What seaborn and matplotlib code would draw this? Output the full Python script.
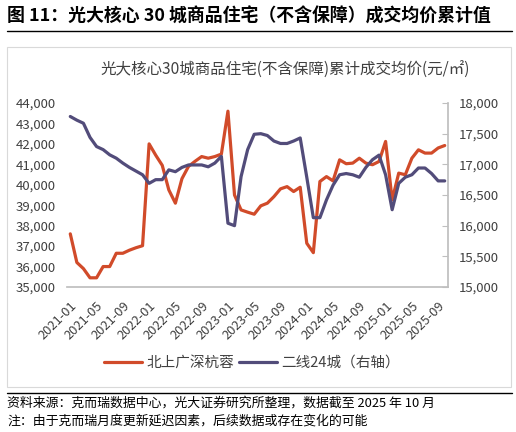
import pandas as pd
import matplotlib.pyplot as plt
import seaborn as sns
from matplotlib.lines import Line2D
from matplotlib.patches import Rectangle

# 月份（2021-01 ~ 2025-10）
months = [str(p) for p in pd.period_range('2021-01', '2025-10', freq='M')]

# 北上广深杭蓉（左轴，元/㎡）
tier1 = [37600, 36200, 35900, 35450, 35450, 36000, 36000, 36650, 36650, 36800,
         36920, 37020, 42000, 41450, 40950, 39750, 39100, 40300, 40900, 41150,
         41380, 41300, 41380, 41500, 43600, 39500, 38770, 38660, 38560, 38970,
         39100, 39420, 39800, 39910, 39670, 39880, 37140, 36680, 40160, 40400,
         40190, 41220, 41030, 41060, 41300, 41060, 40980, 41140, 42120, 39260,
         40570, 40490, 41300, 41710, 41550, 41550, 41800, 41920]

# 二线24城（右轴，元/㎡）
tier2 = [17780, 17720, 17670, 17440, 17290, 17240, 17155, 17100, 17020, 16950,
         16890, 16830, 16690, 16750, 16750, 16910, 16880, 16950, 16990, 16990,
         16990, 16960, 17020, 17130, 16040, 16000, 16800, 17240, 17490, 17500,
         17470, 17380, 17340, 17340, 17380, 17430, 16790, 16130, 16130, 16420,
         16660, 16830, 16850, 16830, 16790, 16950, 17075, 17150, 16830, 16260,
         16690, 16790, 16830, 16940, 16940, 16850, 16730, 16730]

left_ticks = list(range(35000, 44001, 1000))
right_ticks = list(range(15000, 18001, 500))

red = '#D14B2A'
purple = '#524C7A'
grey = '#404040'

sns.set_theme(style='white')
plt.rcParams['font.family'] = ['Noto Sans CJK SC', 'DejaVu Sans']

df = pd.DataFrame({'idx': range(len(months)), 'month': months,
                   'tier1': tier1, 'tier2': tier2})

W, H = 516, 432
fig = plt.figure(figsize=(W / 100, H / 100), dpi=100)
ax = fig.add_axes([67 / W, 1 - 287 / H, (448 - 67) / W, (287 - 103) / H])
ax2 = ax.twinx()

sns.lineplot(data=df, x='idx', y='tier1', ax=ax, color=red, linewidth=2.3,
             label='北上广深杭蓉', legend=False)
sns.lineplot(data=df, x='idx', y='tier2', ax=ax2, color=purple, linewidth=2.3,
             label='二线24城（右轴）', legend=False)

n = len(months)
ax.set_xlim(-0.5, n - 0.5)
ax.set_ylim(35000, 44000)
ax2.set_ylim(15000, 18000)
ax.set_yticks(left_ticks)
ax.set_yticklabels([f'{v:,}' for v in left_ticks])
ax2.set_yticks(right_ticks)
ax2.set_yticklabels([f'{v:,}' for v in right_ticks])

# 刻度线在类别之间，标签在类别中心
ax.set_xticks([i - 0.5 for i in range(0, n, 4)])
ax.set_xticklabels([])
ax.set_xticks(list(range(0, n, 4)), minor=True)
ax.set_xticklabels(months[::4], minor=True, rotation=45, ha='right',
                   rotation_mode='anchor', fontsize=9.3, color=grey)
ax.tick_params(axis='x', which='major', direction='in', length=4,
               color='#BFBFBF', width=0.8)
ax.tick_params(axis='x', which='minor', length=0, pad=9)
ax.tick_params(axis='y', length=0, labelsize=9.5, labelcolor=grey, pad=8)
ax2.tick_params(axis='y', direction='in', length=4, color='#BFBFBF',
                width=0.8, labelsize=9.5, labelcolor=grey, pad=8)

for a in (ax, ax2):
    a.set_xlabel('')
    a.set_ylabel('')
    a.grid(False)
    for s in a.spines.values():
        s.set_visible(False)
ax.spines['bottom'].set_visible(True)
ax.spines['bottom'].set_color('#BFBFBF')
ax2.spines['right'].set_visible(True)
ax2.spines['right'].set_color('#BFBFBF')

handles = [Line2D([], [], color=red, lw=2.3), Line2D([], [], color=purple, lw=2.3)]
fig.legend(handles, ['北上广深杭蓉', '二线24城（右轴）'], loc='center',
           bbox_to_anchor=(252 / W, 1 - 363 / H), ncol=2, frameon=False,
           fontsize=10.5, handlelength=2.6, columnspacing=0.3, handletextpad=0.3,
           labelcolor=grey)

# 外框与文字
fig.add_artist(Rectangle((7 / W, 1 - 387 / H), (511 - 7) / W, (387 - 47) / H,
                         transform=fig.transFigure, fill=False,
                         edgecolor='#D9D9D9', linewidth=0.8))
fig.add_artist(Line2D([7 / W, 512 / W], [1 - 31 / H] * 2, color='black', lw=1))
fig.add_artist(Line2D([7 / W, 512 / W], [1 - 393 / H] * 2, color='black', lw=1))

fig.text(7 / W, 1 - 17 / H, '图 11：光大核心 30 城商品住宅（不含保障）成交均价累计值',
         fontsize=12.9, fontweight='bold', va='center', ha='left', color='black')
fig.text(285 / W, 1 - 70 / H, '光大核心30城商品住宅(不含保障)累计成交均价(元/㎡)',
         fontsize=11.2, va='center', ha='center', color=grey)
fig.text(7 / W, 1 - 403 / H, '资料来源：克而瑞数据中心，光大证券研究所整理，数据截至 2025 年 10 月',
         fontsize=9.3, va='center', ha='left', color='black')
fig.text(7 / W, 1 - 421 / H, '注：由于克而瑞月度更新延迟因素，后续数据或存在变化的可能',
         fontsize=9.3, va='center', ha='left', color='black')

fig.savefig('out.png', dpi=100)
